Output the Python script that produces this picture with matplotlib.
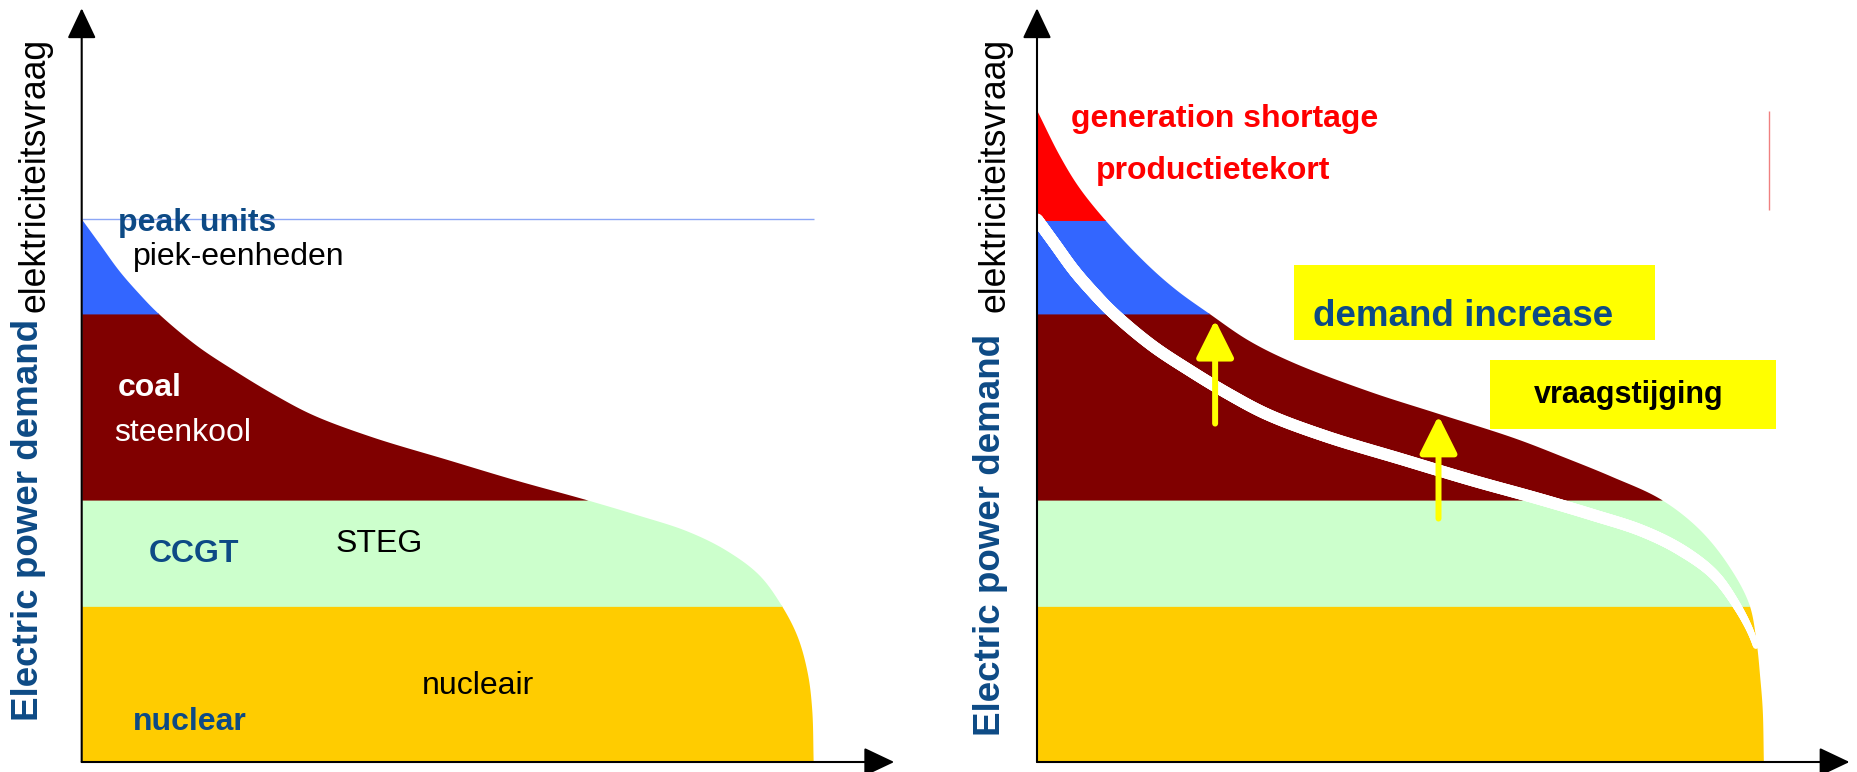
## load duration curve with the generation stack on top of it,
## before and after a rise in electricity demand

import numpy as np
from matplotlib import pyplot as plt
from matplotlib.patches import Rectangle
from matplotlib.collections import LineCollection

plt.rcParams['font.family'] = ['Liberation Sans', 'DejaVu Sans']

## duration curves: share of the hours (%) against demand (% of the axis)
hours_before = [0, 2.4, 5.1, 7.7, 10.4, 15.7, 21.0, 26.3, 31.6, 39.6, 50.2, 59.5,
                68.8, 76.1, 82.8, 88.1, 92.7, 95.7, 98.0, 99.4, 100.0, 100.2]
demand_before = [72.0, 68.8, 65.2, 62.3, 59.6, 55.3, 51.9, 48.8, 46.1, 43.2, 40.1, 37.4,
                 34.9, 32.8, 30.7, 28.2, 24.9, 21.0, 16.7, 11.8, 7.0, 0.0]

hours_after = [0, 3.0, 5.7, 9.7, 15.0, 19.0, 23.6, 28.9, 34.9, 45.5, 54.8, 65.4,
               72.1, 78.7, 85.4, 90.7, 94.7, 97.5, 98.5, 99.0, 99.35, 99.5]
demand_after = [86.4, 80.6, 76.3, 71.5, 66.1, 62.7, 59.5, 56.0, 53.1, 49.2, 46.3, 43.0,
                40.5, 37.9, 34.9, 30.9, 26.1, 21.0, 16.0, 11.3, 6.9, 0.0]

## generation stack, upper edge of each block
stack_names = ['nuclear', 'CCGT', 'coal', 'peak units', 'shortage']
stack_tops = [20.8, 34.9, 59.6, 72.0, 100.0]
stack_colors = ['#FFCC00', '#CCFFCC', '#800000', '#3366FF', '#FF0000']

## where the demand increase arrows sit
arrow_hours = [24.4, 55.0]
arrow_from = [44.9, 32.3]

navy = '#0D4A85'


def smooth(xs, ys, n=40):
    ## centripetal catmull-rom through the points
    p = np.column_stack([xs, ys]).astype(float)
    p = np.vstack([2*p[0]-p[1], p, 2*p[-1]-p[-2]])
    out = []
    for i in range(1, len(p)-2):
        p0, p1, p2, p3 = p[i-1], p[i], p[i+1], p[i+2]
        t0 = 0.0
        t1 = t0 + np.linalg.norm(p1-p0)**0.5
        t2 = t1 + np.linalg.norm(p2-p1)**0.5
        t3 = t2 + np.linalg.norm(p3-p2)**0.5
        t = np.linspace(t1, t2, n, endpoint=False)[:, None]
        a1 = (t1-t)/(t1-t0)*p0 + (t-t0)/(t1-t0)*p1
        a2 = (t2-t)/(t2-t1)*p1 + (t-t1)/(t2-t1)*p2
        a3 = (t3-t)/(t3-t2)*p2 + (t-t2)/(t3-t2)*p3
        b1 = (t2-t)/(t2-t0)*a1 + (t-t0)/(t2-t0)*a2
        b2 = (t3-t)/(t3-t1)*a2 + (t-t1)/(t3-t1)*a3
        out.append((t2-t)/(t2-t1)*b1 + (t-t1)/(t2-t1)*b2)
    out.append(p[-2][None])
    c = np.vstack(out)
    return np.maximum.accumulate(c[:, 0]), np.minimum.accumulate(c[:, 1])


def draw_stack(ax, hours, demand):
    x, y = smooth(hours, demand)
    lo = 0.0
    for top, col in zip(stack_tops, stack_colors):
        yy = np.linspace(max(lo-0.15, 0), top, 500)
        xx = np.interp(yy, y[::-1], x[::-1])
        ax.fill_betweenx(yy, 0, xx, color=col, lw=0)
        lo = top
    return x, y


def axis_arrows(ax):
    style = dict(arrowstyle='-|>,head_length=1.9,head_width=0.9', color='black',
                 lw=1.5, shrinkA=0, shrinkB=0, mutation_scale=10)
    ax.annotate('', xy=(0, 100), xytext=(0, 0), arrowprops=style, annotation_clip=False)
    ax.annotate('', xy=(111.3, 0), xytext=(0, 0), arrowprops=style, annotation_clip=False)


W, H = 1858, 772
fig = plt.figure(figsize=(W/100, H/100), dpi=100)
ax1 = fig.add_axes([81.7/W, 10/H, 812.5/W, 753.7/H])
ax2 = fig.add_axes([1037/W, 10/H, 812.5/W, 753.7/H])
for ax in (ax1, ax2):
    ax.set_xlim(0, 111.3)
    ax.set_ylim(0, 100)
    ax.axis('off')

txt = dict(fontsize=23, ha='left', va='baseline')
ylab = dict(rotation=90, rotation_mode='anchor', ha='left', va='baseline')

## left: present situation
draw_stack(ax1, hours_before, demand_before)
ax1.hlines(stack_tops[3], 0, 100.3, color='#8CA6F5', lw=1)
axis_arrows(ax1)
ax1.text(5.0, 70.5, 'peak units', color=navy, fontweight='bold', **txt)
ax1.text(7.0, 65.9, 'piek-eenheden', color='black', **txt)
ax1.text(5.0, 48.5, 'coal', color='white', fontweight='bold', **txt)
ax1.text(4.45, 42.6, 'steenkool', color='white', **txt)
ax1.text(9.2, 26.5, 'CCGT', color=navy, fontweight='bold', **txt)
ax1.text(34.75, 27.8, 'STEG', color='black', **txt)
ax1.text(46.6, 9.0, 'nucleair', color='black', **txt)
ax1.text(7.05, 4.3, 'nuclear', color=navy, fontweight='bold', **txt)
ax1.text(-6.0, 5.4, 'Electric power demand', fontsize=26.5, fontweight='bold', color=navy, **ylab)
ax1.text(-5.1, 59.7, 'elektriciteitsvraag', fontsize=25.6, color='black', **ylab)

## right: demand has gone up, old curve kept as a white line
xn, yn = draw_stack(ax2, hours_after, demand_after)
xo, yo = smooth(hours_before, demand_before)
keep = yo >= 15.3
pts = np.column_stack([xo[keep], yo[keep]])
segs = np.stack([pts[:-1], pts[1:]], axis=1)
widths = np.interp(pts[:-1, 1], [15, 28, 100], [4.0, 8.5, 8.5])
ax2.add_collection(LineCollection(segs, linewidths=widths, colors='white',
                                  capstyle='round'))
ax2.vlines(100.3, 73.3, demand_after[0], color='#F08080', lw=1)
axis_arrows(ax2)

ax2.add_patch(Rectangle((35.2, 56.0), 49.5, 9.9, color='#FFFF00', lw=0))
ax2.add_patch(Rectangle((62.1, 44.2), 39.2, 9.2, color='#FFFF00', lw=0))

for h, y0 in zip(arrow_hours, arrow_from):
    tip = np.interp(h, xn, yn) - 0.3
    ax2.annotate('', xy=(h, tip), xytext=(h, y0),
                 arrowprops=dict(arrowstyle='-|>,head_length=2.3,head_width=1.15',
                                 color='#FFFF00', lw=4.3, shrinkA=0, shrinkB=0,
                                 mutation_scale=10))

ax2.text(4.7, 84.3, 'generation shortage', color='#FF0000', fontweight='bold', **txt)
ax2.text(8.05, 77.3, 'productietekort', color='#FF0000', fontweight='bold', **txt)
ax2.text(37.8, 57.8, 'demand increase', color=navy, fontweight='bold',
         fontsize=26.5, ha='left', va='baseline')
ax2.text(68.1, 47.6, 'vraagstijging', color='black', fontweight='bold',
         fontsize=22, ha='left', va='baseline')
ax2.text(-5.1, 3.4, 'Electric power demand', fontsize=26.5, fontweight='bold', color=navy, **ylab)
ax2.text(-4.4, 59.7, 'elektriciteitsvraag', fontsize=25.6, color='black', **ylab)

plt.savefig('out.png', dpi=100)
